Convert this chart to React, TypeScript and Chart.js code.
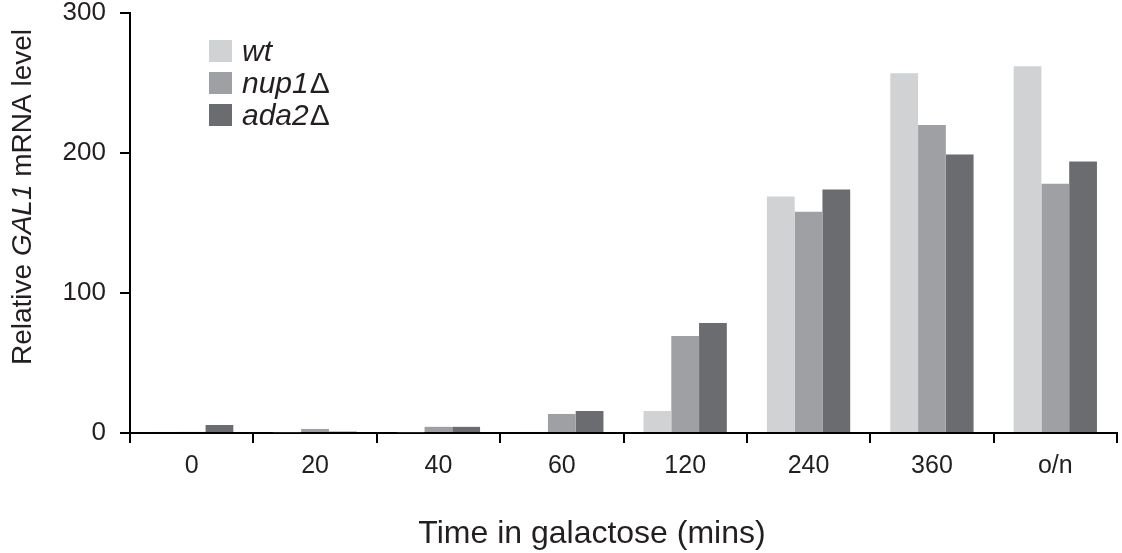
import React, { useEffect, useRef } from "react";
import { Chart, registerables } from "chart.js";

Chart.register(...registerables);

const categories = ["0", "20", "40", "60", "120", "240", "360", "o/n"];
const seriesNames = ["wt", "nup1", "ada2"];
const wtValues = [0.8, 0.6, 0.6, 0.8, 15.7, 169, 257, 262];
const nup1Values = [0.8, 2.9, 4.4, 13.6, 69.3, 158, 220, 178];
const ada2Values = [5.7, 1.0, 4.4, 15.7, 78.6, 174, 199, 194];
const yTicks = [0, 100, 200, 300];
const colors = ["#d1d2d4", "#9fa0a4", "#6b6c70"];

const FONT = "'Liberation Sans', Arial, Helvetica, sans-serif";

const annotations = {
  id: "annotations",
  afterDraw(chart: any) {
    const ctx = chart.ctx as CanvasRenderingContext2D;
    ctx.save();
    ctx.fillStyle = "#231f20";
    const yParts: [string, boolean][] = [
      ["Relative ", false],
      ["GAL1", true],
      [" mRNA level", false],
    ];
    const ySize = 28;
    let total = 0;
    const widths: number[] = [];
    for (const [t, it] of yParts) {
      ctx.font = `${it ? "italic " : ""}${ySize}px ${FONT}`;
      const w = ctx.measureText(t).width;
      widths.push(w);
      total += w;
    }
    ctx.translate(31, 197);
    ctx.rotate(-Math.PI / 2);
    ctx.textBaseline = "alphabetic";
    ctx.textAlign = "left";
    let x = -total / 2;
    yParts.forEach(([t, it], i) => {
      ctx.font = `${it ? "italic " : ""}${ySize}px ${FONT}`;
      ctx.fillText(t, x, 0);
      x += widths[i];
    });
    ctx.restore();

    ctx.save();
    ctx.fillStyle = "#231f20";
    ctx.font = `32px ${FONT}`;
    ctx.textAlign = "center";
    ctx.textBaseline = "alphabetic";
    ctx.fillText("Time in galactose (mins)", 592, 543);
    ctx.restore();

    ctx.save();
    const boxCenters = [51, 83, 115];
    chart.data.datasets.forEach((ds: any, i: number) => {
      ctx.fillStyle = ds.backgroundColor;
      ctx.fillRect(209, boxCenters[i] - 11, 23, 22);
      ctx.fillStyle = "#231f20";
      ctx.textBaseline = "alphabetic";
      ctx.textAlign = "left";
      ctx.font = `italic 30px ${FONT}`;
      const name = seriesNames[i];
      const by = boxCenters[i] + 10;
      ctx.fillText(name, 242, by);
      if (i > 0) {
        const w = ctx.measureText(name).width;
        ctx.font = `30px ${FONT}`;
        ctx.fillText("\u0394", 242 + w + 1, by);
      }
    });
    ctx.restore();
  },
};

export default function App() {
  const ref = useRef<HTMLCanvasElement | null>(null);
  useEffect(() => {
    document.body.style.margin = "0";
    const canvas = ref.current;
    if (!canvas) return;
    const chart = new Chart(canvas, {
      type: "bar",
      data: {
        labels: categories,
        datasets: [
          { label: "wt", data: wtValues, backgroundColor: colors[0] },
          { label: "nup1Δ", data: nup1Values, backgroundColor: colors[1] },
          { label: "ada2Δ", data: ada2Values, backgroundColor: colors[2] },
        ],
      },
      options: {
        responsive: false,
        animation: false,
        layout: { padding: { top: 13, right: 5, left: 0, bottom: 0 } },
        datasets: {
          bar: { barPercentage: 1, categoryPercentage: 0.675, borderWidth: 0 },
        },
        plugins: {
          legend: { display: false },
          tooltip: { enabled: false },
          title: { display: false },
        },
        scales: {
          x: {
            offset: true,
            grid: {
              display: true,
              offset: true,
              drawOnChartArea: false,
              drawTicks: true,
              tickLength: 10,
              color: "#000",
              lineWidth: 2,
            },
            border: { display: true, color: "#000", width: 2 },
            ticks: {
              color: "#231f20",
              font: { family: FONT, size: 25 },
              padding: 8,
              maxRotation: 0,
              autoSkip: false,
            },
            afterFit: (scale: any) => {
              scale.height = 120;
              scale.paddingLeft = 0;
              scale.paddingRight = 0;
            },
          },
          y: {
            min: 0,
            max: 300,
            afterBuildTicks: (scale: any) => {
              scale.ticks = yTicks.map((v) => ({ value: v }));
            },
            grid: {
              display: true,
              drawOnChartArea: false,
              drawTicks: true,
              tickLength: 10,
              color: "#000",
              lineWidth: 2,
            },
            border: { display: true, color: "#000", width: 2 },
            ticks: {
              color: "#231f20",
              font: { family: FONT, size: 26 },
              padding: 14,
            },
            afterFit: (scale: any) => {
              scale.width = 130;
              scale.paddingTop = 0;
              scale.paddingBottom = 0;
            },
          },
        },
      },
      plugins: [annotations],
    });
    return () => chart.destroy();
  }, []);
  return (
    <div style={{ width: 1122, height: 553, background: "#fff" }}>
      <canvas ref={ref} width={1122} height={553} style={{ display: "block" }} />
    </div>
  );
}
